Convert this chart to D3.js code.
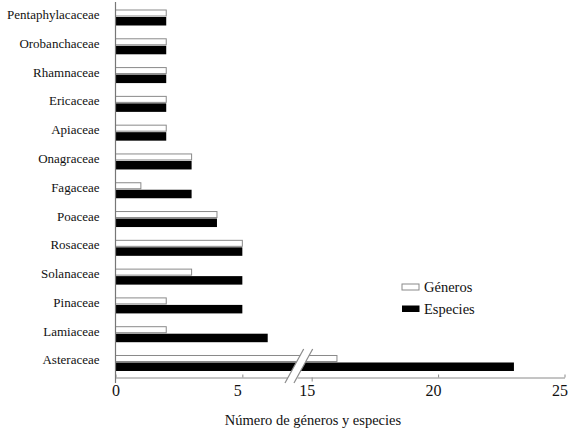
<!DOCTYPE html>
<html>
<head>
<meta charset="utf-8">
<script src="https://cdn.jsdelivr.net/npm/d3@7"></script>
<style>
  html, body { margin: 0; padding: 0; background: #fff; }
  svg { display: block; }
  svg text { font-family: "Liberation Serif", "Times New Roman", Times, "DejaVu Serif", serif !important; fill: #111; }
</style>
</head>
<body>
<svg id="chart" width="572" height="438"></svg>
<script>
// ---- data ----
const categories = ["Pentaphylacaceae", "Orobanchaceae", "Rhamnaceae", "Ericaceae", "Apiaceae",
  "Onagraceae", "Fagaceae", "Poaceae", "Rosaceae", "Solanaceae", "Pinaceae", "Lamiaceae", "Asteraceae"];
const generos  = [2, 2, 2, 2, 2, 3, 1, 4, 5, 3, 2, 2, 16];
const especies = [2, 2, 2, 2, 2, 3, 3, 4, 5, 5, 5, 6, 23];
const seriesNames = ["Géneros", "Especies"];
const lowTicks = [0, 5];
const highTicks = [15, 20, 25];
const axisTitle = "Número de géneros y especies";

const FONT = "'Liberation Serif', 'Times New Roman', Times, 'DejaVu Serif', serif";

// ---- scales (broken axis) ----
const svg = d3.select("#chart");
const axisY = 377.5;
const xLow = d3.scaleLinear().domain([0, 6.8]).range([115.5, 288]);
const xHigh = d3.scaleLinear().domain([14.42, 25]).range([297, 564.5]);
const x = v => v <= 6.8 ? xLow(v) : xHigh(v);

const y = d3.scaleBand().domain(categories).range([9.5, 371]).paddingInner(0.444).paddingOuter(0);

const data = categories.map((c, i) => ({ cat: c, g: generos[i], e: especies[i] }));

// ---- bars ----
const gBars = svg.append("g");
gBars.selectAll("rect.gen").data(data).join("rect")
  .attr("class", "gen")
  .attr("x", x(0))
  .attr("y", d => y(d.cat) + 0.5)
  .attr("width", d => x(d.g) - x(0))
  .attr("height", 6)
  .attr("fill", "#fff")
  .attr("stroke", "#8a8a8a")
  .attr("stroke-width", 1);

gBars.selectAll("rect.esp").data(data).join("rect")
  .attr("class", "esp")
  .attr("x", x(0))
  .attr("y", d => y(d.cat) + 7.5)
  .attr("width", d => x(d.e) - x(0))
  .attr("height", 8.5)
  .attr("fill", "#000");

// ---- x axis (two segments) ----
function styleAxis(g) {
  g.attr("font-family", null);
  g.select(".domain").attr("stroke", "#8a8a8a").attr("stroke-width", 1);
  g.selectAll(".tick line").attr("stroke", "#8a8a8a");
  g.selectAll(".tick text")
    .style("font-family", FONT)
    .attr("font-size", 16)
    .attr("fill", "#111")
    .attr("y", 7)
    .attr("dy", "0.71em")
    .attr("dx", d => d === 0 ? 0 : -5);
}
svg.append("g").attr("transform", `translate(0,${axisY})`)
  .call(d3.axisBottom(xLow).tickValues(lowTicks).tickSizeInner(-3).tickSizeOuter(0).tickFormat(d3.format("d")))
  .call(styleAxis);
svg.append("g").attr("transform", `translate(0,${axisY})`)
  .call(d3.axisBottom(xHigh).tickValues(highTicks).tickSizeInner(-3).tickSizeOuter(0).tickFormat(d3.format("d")))
  .call(styleAxis)
  .call(g => g.selectAll(".tick line").filter(d => d === 15).attr("y2", 4));

// ---- break marks ----
const bx1 = xLow(6.8), bx2 = xHigh(14.42);
const slope = 0.55, yTop = 349, yBot = 383;
const sx = (bx, yy) => bx + (axisY - yy) * slope;
svg.append("polygon")
  .attr("points", [[sx(bx1, yBot), yBot], [sx(bx1, yTop), yTop], [sx(bx2, yTop), yTop], [sx(bx2, yBot), yBot]].map(p => p.join(",")).join(" "))
  .attr("fill", "#fff");
[bx1, bx2].forEach(bx => {
  svg.append("line")
    .attr("x1", sx(bx, yBot)).attr("y1", yBot)
    .attr("x2", sx(bx, yTop)).attr("y2", yTop)
    .attr("stroke", "#8a8a8a").attr("stroke-width", 1.2);
});

// ---- y axis ----
svg.append("line")
  .attr("x1", x(0)).attr("x2", x(0))
  .attr("y1", 2).attr("y2", 383)
  .attr("stroke", "#777").attr("stroke-width", 1.2);

const yAxisG = svg.append("g").attr("transform", `translate(${x(0)},0)`)
  .call(d3.axisLeft(y).tickSize(0).tickPadding(16));
yAxisG.attr("font-family", null);
yAxisG.select(".domain").remove();
yAxisG.selectAll(".tick text")
  .style("font-family", FONT)
  .attr("font-size", 13)
  .attr("fill", "#111")
  .attr("dy", "0.115em");

// ---- axis title ----
svg.append("text")
  .attr("x", 313).attr("y", 425)
  .attr("text-anchor", "middle")
  .style("font-family", FONT)
  .attr("font-size", 14.5)
  .text(axisTitle);

// ---- legend ----
const legend = svg.append("g");
const legendY = [284, 305.5];
legend.append("rect").attr("x", 402).attr("y", legendY[0]).attr("width", 17).attr("height", 6)
  .attr("fill", "#fff").attr("stroke", "#8a8a8a");
legend.append("rect").attr("x", 402).attr("y", legendY[1]).attr("width", 17.5).attr("height", 6.5)
  .attr("fill", "#000");
seriesNames.forEach((s, i) => {
  legend.append("text")
    .attr("x", 424).attr("y", legendY[i] + 8)
    .style("font-family", FONT)
    .attr("font-size", 14.5)
    .text(s);
});
</script>
</body>
</html>
